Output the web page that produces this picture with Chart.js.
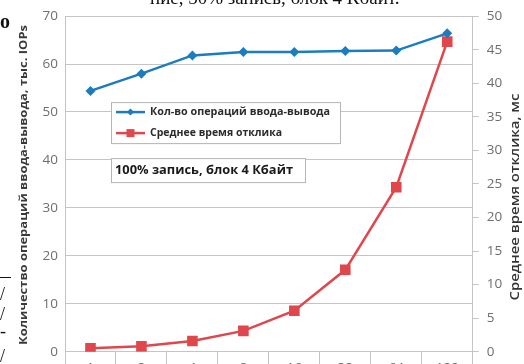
<!DOCTYPE html>
<html>
<head>
<meta charset="utf-8">
<script src="https://cdn.jsdelivr.net/npm/chart.js@4"></script>
<style>
  html, body { margin: 0; padding: 0; background: #fff; overflow: hidden; }
  #wrap { position: relative; width: 524px; height: 384px; }
</style>
</head>
<body>
<div id="wrap"><canvas id="chart"></canvas></div>
<script>
// очередь запросов (глубина) по оси X
const categories = ["1", "2", "4", "8", "16", "32", "64", "128"];
// тыс. IOPs, левая ось
const iopsValues = [54.4, 58.0, 61.8, 62.5, 62.5, 62.7, 62.8, 66.4];
// среднее время отклика, мс, правая ось
const latencyValues = [0.5, 0.8, 1.6, 3.1, 6.1, 12.2, 24.5, 46.2];

const seriesNames = ["Кол-во операций ввода-вывода", "Среднее время отклика"];
const noteText = "100% запись, блок 4 Кбайт";
const leftTitle = "Количество операций ввода-вывода, тыс. IOPs";
const rightTitle = "Среднее время отклика, мс";
const pageTitle = "ние, 50% запись, блок 4 Кбайт.";

const BLUE = "#1b7cc0";
const RED = "#e0474c";
const GRID = "#c4c4c4";
const TICK_COLOR = "#6e6e6e";

// текст, растянутый/сжатый по ширине до нужной длины
function fitText(ctx, text, x, y, len, font, color, rot, align) {
    ctx.save();
    ctx.font = font;
    ctx.fillStyle = color;
    ctx.translate(x, y);
    if (rot) ctx.rotate(rot);
    const w = ctx.measureText(text).width;
    ctx.scale(len / w, 1);
    ctx.textBaseline = "middle";
    ctx.textAlign = align || "left";
    ctx.fillText(text, 0, 0);
    ctx.restore();
}

const overlay = {
    id: "overlay",
    afterDraw(chart) {
        const { ctx, chartArea: a } = chart;
        const ds = chart.data.datasets;

        // легенда
        const lx = a.left + 46, ly = a.top + 86;
        ctx.save();
        ctx.fillStyle = "#fff";
        ctx.strokeStyle = "#b5b5b5";
        ctx.lineWidth = 1;
        ctx.fillRect(lx, ly, 229, 41);
        ctx.strokeRect(lx + 0.5, ly + 0.5, 229, 41);
        const legendLens = [180, 132];
        ds.forEach((d, i) => {
            const cy = ly + 10 + i * 21;
            ctx.strokeStyle = d.borderColor;
            ctx.lineWidth = 2.5;
            ctx.beginPath();
            ctx.moveTo(lx + 5, cy);
            ctx.lineTo(lx + 34, cy);
            ctx.stroke();
            ctx.fillStyle = d.borderColor;
            if (d.pointStyle === "rect") {
                ctx.fillRect(lx + 15.5, cy - 4, 8, 8);
            } else {
                ctx.beginPath();
                ctx.moveTo(lx + 19.5, cy - 3.5);
                ctx.lineTo(lx + 23, cy);
                ctx.lineTo(lx + 19.5, cy + 3.5);
                ctx.lineTo(lx + 16, cy);
                ctx.closePath();
                ctx.fill();
            }
            fitText(ctx, d.label, lx + 39, cy, legendLens[i], "bold 11px 'Open Sans'", "#2b2b2b");
        });

        // подпись режима
        const nx = lx, ny = a.top + 142;
        ctx.fillStyle = "#fff";
        ctx.strokeStyle = "#b5b5b5";
        ctx.fillRect(nx, ny, 194, 24);
        ctx.lineWidth = 1;
        ctx.strokeRect(nx + 0.5, ny + 0.5, 194, 24);
        fitText(ctx, noteText, nx + 4, ny + 12.5, 178, "bold 13px 'Open Sans'", "#1a1a1a");

        // заголовки осей
        fitText(ctx, leftTitle, 24, 185, 320, "bold 11px 'Open Sans'", "#3a3a3a", -Math.PI / 2, "center");
        fitText(ctx, rightTitle, 515, 197, 207, "600 13px 'Open Sans'", "#333", -Math.PI / 2, "center");

        // обрезки соседнего текста страницы
        ctx.fillStyle = "#111";
        ctx.font = "19px 'Liberation Serif'";
        ctx.textBaseline = "alphabetic";
        ctx.textAlign = "left";
        ctx.fillText(pageTitle, 150, 4);
        ctx.font = "bold 20px 'Liberation Serif'";
        ctx.fillText("о", 0, 28);
        ctx.font = "18px 'Liberation Serif'";
        ctx.fillText("/", 0, 300);
        ctx.fillText("/", 0, 320);
        ctx.fillText("-", 0, 337);
        ctx.fillText("/", 0, 362);
        ctx.fillRect(0, 277, 11, 1);
        ctx.restore();
    }
};

const tickFont = { family: "'Open Sans'", size: 13.5 };

new Chart(document.getElementById("chart"), {
    type: "line",
    data: {
        labels: categories,
        datasets: [
            {
                label: seriesNames[0],
                data: iopsValues,
                yAxisID: "y",
                borderColor: BLUE,
                backgroundColor: BLUE,
                borderWidth: 2.5,
                pointStyle: "rectRot",
                pointRadius: 5,
                pointBorderWidth: 0,
                tension: 0
            },
            {
                label: seriesNames[1],
                data: latencyValues,
                yAxisID: "y2",
                borderColor: RED,
                backgroundColor: RED,
                borderWidth: 2.5,
                pointStyle: "rect",
                pointRadius: 7.5,
                pointBorderWidth: 0,
                tension: 0
            }
        ]
    },
    options: {
        responsive: true,
        maintainAspectRatio: false,
        animation: false,
        layout: { padding: { top: 14.7, left: 0, right: 0, bottom: 0 } },
        plugins: {
            legend: { display: false },
            tooltip: { enabled: false }
        },
        scales: {
            x: {
                offset: true,
                grid: { offset: true, drawOnChartArea: false, tickLength: 14, color: GRID },
                border: { color: GRID },
                ticks: { padding: -6, color: TICK_COLOR, font: tickFont },
                afterFit: (s) => { s.height = 32.3; }
            },
            y: {
                position: "left",
                min: 0,
                max: 70,
                ticks: { stepSize: 10, padding: 7, color: TICK_COLOR, font: tickFont },
                grid: { color: GRID, drawTicks: false },
                border: { color: GRID },
                afterFit: (s) => { s.width = 65; }
            },
            y2: {
                position: "right",
                min: 0,
                max: 50,
                ticks: { stepSize: 5, padding: 8, color: TICK_COLOR, font: tickFont },
                grid: { drawOnChartArea: false, tickLength: 6, color: GRID },
                border: { color: GRID },
                afterFit: (s) => { s.width = 51.3; }
            }
        }
    },
    plugins: [overlay]
});
</script>
</body>
</html>
